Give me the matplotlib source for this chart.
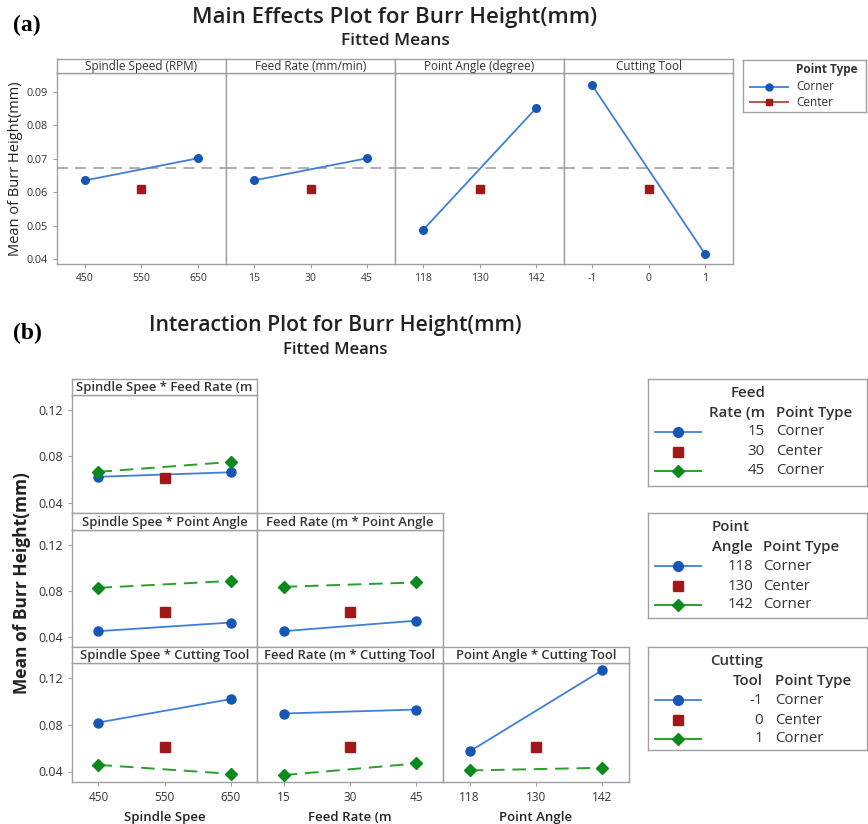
import matplotlib
matplotlib.use('Agg')
import matplotlib.pyplot as plt

# ---------------- data ----------------
spindle_levels = [450, 550, 650]
feed_levels = [15, 30, 45]
angle_levels = [118, 130, 142]
tool_levels = [-1, 0, 1]

main_factors = ["Spindle Speed (RPM)", "Feed Rate (mm/min)", "Point Angle (degree)", "Cutting Tool"]
main_corner = [[0.0635, 0.0701], [0.0635, 0.0701], [0.0487, 0.0850], [0.0919, 0.0416]]
main_center = [0.0608, 0.0608, 0.0608, 0.0608]
grand_mean = 0.0671

int_titles = ["Spindle Spee * Feed Rate (m", "Spindle Spee * Point Angle", "Feed Rate (m * Point Angle",
              "Spindle Spee * Cutting Tool", "Feed Rate (m * Cutting Tool", "Point Angle * Cutting Tool"]
int_low = [[0.0623, 0.0662], [0.0448, 0.0523], [0.0448, 0.0540],
           [0.0820, 0.1020], [0.0897, 0.0931], [0.0572, 0.1269]]
int_high = [[0.0666, 0.0751], [0.0826, 0.0886], [0.0835, 0.0873],
            [0.0457, 0.0380], [0.0369, 0.0469], [0.0409, 0.0432]]
int_center = [0.0612, 0.0612, 0.0612, 0.0608, 0.0608, 0.0608]
int_xlabels = ["Spindle Spee", "Feed Rate (m", "Point Angle"]

leg_titles = [("Feed", "Rate (m"), ("Point", "Angle"), ("Cutting", "Tool")]
leg_values = [["15", "30", "45"], ["118", "130", "142"], ["-1", "0", "1"]]
leg_types = ["Corner", "Center", "Corner"]

# ---------------- style ----------------
W, H = 868, 824
plt.rcParams['font.family'] = ['Open Sans', 'DejaVu Sans']
fig = plt.figure(figsize=(W / 100, H / 100), dpi=100)

SPINE = '#a0a0a0'
TXT = '#333333'
BLUE_L = '#3f7fd6'
BLUE_M = '#1656b4'
RED = '#a11818'
GREEN_L = '#2aa02a'
GREEN_M = '#0a8a1c'


def rect(l, t, r, b):
    return [l / W, 1 - b / H, (r - l) / W, (b - t) / H]


def style(ax):
    for s in ax.spines.values():
        s.set_color(SPINE)
        s.set_linewidth(1.0)
    ax.tick_params(color=SPINE, labelcolor=TXT, length=3, width=0.8)


def strip(l, t, r, b, text, size, weight='normal'):
    a = fig.add_axes(rect(l, t, r, b))
    a.set_xticks([]); a.set_yticks([])
    for s in a.spines.values():
        s.set_color(SPINE); s.set_linewidth(1.0)
    a.text(0.5, 0.45, text, ha='center', va='center', fontsize=size, color=TXT,
           weight=weight, transform=a.transAxes)
    return a


def xlim_for(levels):
    rng = levels[-1] - levels[0]
    return (levels[0] - 0.25 * rng, levels[-1] + 0.25 * rng)


# ---------------- (a) main effects ----------------
fig.text(27 / W, 1 - 25 / H, "(a)", fontsize=17, weight='bold', family='Liberation Serif',
         ha='center', va='center')
fig.text(395 / W, 1 - 17 / H, "Main Effects Plot for Burr Height(mm)", fontsize=16,
         weight='semibold', ha='center', va='center', color='#222222')
fig.text(395 / W, 1 - 41 / H, "Fitted Means", fontsize=12.5, weight='semibold',
         ha='center', va='center', color='#222222')

edges_a = [57, 226, 395, 564, 733]
levels_a = [spindle_levels, feed_levels, angle_levels, tool_levels]
for i in range(4):
    l, r = edges_a[i], edges_a[i + 1]
    ax = fig.add_axes(rect(l, 73, r, 264))
    style(ax)
    lv = levels_a[i]
    ax.axhline(grand_mean, color='#a8a8a8', lw=1.3, ls=(0, (6, 4)), zorder=1)
    ax.plot([lv[0], lv[2]], main_corner[i], color=BLUE_L, lw=1.3, marker='o', ms=5.5,
            mfc=BLUE_M, mec=BLUE_M, zorder=3)
    ax.plot([lv[1]], [main_center[i]], ls='none', marker='s', ms=6, mfc=RED, mec=RED, zorder=3)
    ax.set_xlim(xlim_for(lv))
    ax.set_ylim(0.0385, 0.0956)
    ax.set_xticks(lv)
    ax.set_xticklabels([str(v) for v in lv], fontsize=7.5)
    if i == 0:
        ax.set_yticks([0.04, 0.05, 0.06, 0.07, 0.08, 0.09])
        ax.set_yticklabels(["0.04", "0.05", "0.06", "0.07", "0.08", "0.09"], fontsize=7.8)
        ax.set_ylabel("Mean of Burr Height(mm)", fontsize=10.5, color='#222222', labelpad=3)
    else:
        ax.set_yticks([])
    strip(l, 59, r, 73, main_factors[i], 8.5)

# legend (a)
lg = fig.add_axes(rect(743, 60, 866, 112))
lg.set_xticks([]); lg.set_yticks([])
lg.set_xlim(743, 866); lg.set_ylim(112, 60)
for s in lg.spines.values():
    s.set_color(SPINE); s.set_linewidth(1.0)
lg.text(858, 70, "Point Type", fontsize=8.5, weight='bold', ha='right', va='center', color=TXT)
lg.plot([750, 788], [87, 87], color=BLUE_L, lw=1.3)
lg.plot([769], [87], marker='o', ms=5, color=BLUE_M)
lg.text(796, 87, "Corner", fontsize=8.5, ha='left', va='center', color=TXT)
lg.plot([750, 788], [102, 102], color='#c04040', lw=1.3)
lg.plot([769], [102], marker='s', ms=5, color=RED)
lg.text(796, 102, "Center", fontsize=8.5, ha='left', va='center', color=TXT)

# ---------------- (b) interaction ----------------
fig.text(27 / W, 1 - 333 / H, "(b)", fontsize=17, weight='bold', family='Liberation Serif',
         ha='center', va='center')
fig.text(335 / W, 1 - 326 / H, "Interaction Plot for Burr Height(mm)", fontsize=15.3,
         weight='semibold', ha='center', va='center', color='#222222')
fig.text(335 / W, 1 - 350 / H, "Fitted Means", fontsize=12, weight='semibold',
         ha='center', va='center', color='#222222')

col_edges = [72, 257, 443, 629]
row_strip_top = [379, 513, 647]
row_strip_bot = [395, 530, 663]
row_plot_bot = [513, 647, 782]
# (row, col, x-levels) per interaction
cells = [(0, 0, spindle_levels), (1, 0, spindle_levels), (1, 1, feed_levels),
         (2, 0, spindle_levels), (2, 1, feed_levels), (2, 2, angle_levels)]
for k, (ri, ci, lv) in enumerate(cells):
    l, r = col_edges[ci], col_edges[ci + 1]
    ax = fig.add_axes(rect(l, row_strip_bot[ri], r, row_plot_bot[ri]))
    style(ax)
    ax.plot([lv[0], lv[2]], int_low[k], color=BLUE_L, lw=1.3, marker='o', ms=6.5,
            mfc=BLUE_M, mec=BLUE_M, zorder=3)
    ax.plot([lv[0], lv[2]], int_high[k], color=GREEN_L, lw=1.4, ls=(0, (7, 4)), marker='D',
            ms=6.5, mfc=GREEN_M, mec=GREEN_M, zorder=3)
    ax.plot([lv[1]], [int_center[k]], ls='none', marker='s', ms=6.5, mfc=RED, mec=RED, zorder=3)
    rng = lv[-1] - lv[0]
    ax.set_xlim(lv[0] - 0.2 * rng, lv[-1] + 0.2 * rng)
    ax.set_ylim(0.031, 0.133)
    if ri == 2:
        ax.set_xticks(lv)
        ax.set_xticklabels([str(v) for v in lv], fontsize=8.5)
        ax.set_xlabel(int_xlabels[ci], fontsize=9.5, weight='semibold', color='#222222', labelpad=5)
    else:
        ax.set_xticks([])
    if ci == 0:
        ax.set_yticks([0.04, 0.08, 0.12])
        ax.set_yticklabels(["0.04", "0.08", "0.12"], fontsize=9)
    else:
        ax.set_yticks([])
    strip(l, row_strip_top[ri], r, row_strip_bot[ri], int_titles[k], 9.4, 'semibold')

fig.text(22 / W, 1 - 583 / H, "Mean of Burr Height(mm)", fontsize=12.5, weight='bold',
         rotation=90, ha='center', va='center', color='#222222')

# legends (b)
box_tops = [379, 513, 647]
box_bots = [486, 618, 750]
val_right = [765, 753, 763]
type_left = [776, 763, 775]
for j in range(3):
    t0 = box_tops[j]
    a = fig.add_axes(rect(648, t0, 867, box_bots[j]))
    a.set_xticks([]); a.set_yticks([])
    a.set_xlim(648, 867); a.set_ylim(box_bots[j], t0)
    for s in a.spines.values():
        s.set_color(SPINE); s.set_linewidth(1.0)
    vr, tl = val_right[j], type_left[j]
    a.text(vr if j != 1 else 712, t0 + 14, leg_titles[j][0], fontsize=10.8, weight='semibold',
           ha='right' if j != 1 else 'left', va='center', color=TXT)
    a.text(vr, t0 + 34, leg_titles[j][1], fontsize=10.8, weight='semibold', ha='right',
           va='center', color=TXT)
    a.text(tl, t0 + 34, "Point Type", fontsize=10.8, weight='semibold', ha='left',
           va='center', color=TXT)
    ys = [t0 + 53, t0 + 73, t0 + 92]
    a.plot([655, 701], [ys[0], ys[0]], color=BLUE_L, lw=1.3)
    a.plot([678], [ys[0]], marker='o', ms=7, color=BLUE_M)
    a.plot([678], [ys[1]], marker='s', ms=6.5, color=RED)
    a.plot([655, 701], [ys[2], ys[2]], color=GREEN_L, lw=1.4)
    a.plot([678], [ys[2]], marker='D', ms=6.5, color=GREEN_M)
    for y, v, tp in zip(ys, leg_values[j], leg_types):
        a.text(vr, y, v, fontsize=10.8, ha='right', va='center', color=TXT)
        a.text(tl, y, tp, fontsize=10.8, ha='left', va='center', color=TXT)

fig.savefig("out.png", dpi=100)
